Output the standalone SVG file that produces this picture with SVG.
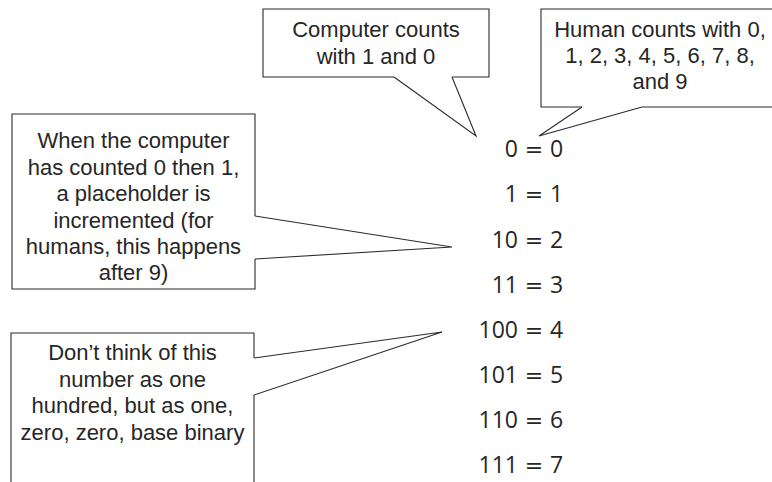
<svg xmlns="http://www.w3.org/2000/svg" width="772" height="482" viewBox="0 0 772 482">
<style>
.bg{fill:#ffffff}
.box{fill:none;stroke:#2b2b2b;stroke-width:1.1;stroke-linejoin:miter}
.tail{fill:none;stroke:#2b2b2b;stroke-width:1.1;stroke-linejoin:miter}
.lbl{font-family:"Liberation Sans",Arial,sans-serif;font-size:22px;fill:#262626;text-anchor:middle}
.eq{font-family:"Open Sans","DejaVu Sans",sans-serif;font-size:23px;fill:#262626}
.eqs{font-family:"DejaVu Sans",sans-serif;font-size:22px;fill:#262626;text-anchor:middle}
.l{text-anchor:end}
.r{text-anchor:start}
</style>
<rect class="bg" x="0" y="0" width="772" height="482"/>

<g id="callout-computer">
  <path class="box" d="M394,77 L263,77 L263,9 L489,9 L489,77 L452,77"/>
  <text class="lbl" x="376" y="37">Computer counts</text>
  <text class="lbl" x="376" y="64">with 1 and 0</text>
</g>

<g id="callout-human">
  <path class="box" d="M582,107 L541,107 L541,9 L776,9 M776,107 L642,107"/>
  <text class="lbl" x="660" y="37">Human counts with 0,</text>
  <text class="lbl" x="660" y="63">1, 2, 3, 4, 5, 6, 7, 8,</text>
  <text class="lbl" x="660" y="89">and 9</text>
</g>

<g id="callout-placeholder">
  <path class="box" d="M255,216 L255,114 L12,114 L12,289 L255,289 L255,259"/>
  <text class="lbl" x="133.5" y="148">When the computer</text>
  <text class="lbl" x="133.5" y="174.5">has counted 0 then 1,</text>
  <text class="lbl" x="133.5" y="201">a placeholder is</text>
  <text class="lbl" x="133.5" y="227.5">incremented (for</text>
  <text class="lbl" x="133.5" y="254">humans, this happens</text>
  <text class="lbl" x="133.5" y="280">after 9)</text>
</g>

<g id="callout-binary">
  <path class="box" d="M254,358 L254,333 L11,333 L11,490 M254,490 L254,395"/>
  <text class="lbl" x="132.5" y="360">Don’t think of this</text>
  <text class="lbl" x="132.5" y="386.5">number as one</text>
  <text class="lbl" x="132.5" y="413">hundred, but as one,</text>
  <text class="lbl" x="132.5" y="440">zero, zero, base binary</text>
</g>

<g id="connectors">
  <polyline class="tail" points="394,77 476,136 452,77"/>
  <polyline class="tail" points="582,107 539,136 642,107"/>
  <polyline class="tail" points="255,216 452,247 255,259"/>
  <polyline class="tail" points="254,358 442,332 254,395"/>
</g>

<g id="equations">
  <text class="eq l" x="518" y="157">0</text><text class="eqs" x="534" y="157">=</text><text class="eq r" x="550" y="157">0</text>
  <text class="eq l" x="518" y="202">1</text><text class="eqs" x="534" y="202">=</text><text class="eq r" x="550" y="202">1</text>
  <text class="eq l" x="518" y="247.5">10</text><text class="eqs" x="534" y="247.5">=</text><text class="eq r" x="550" y="247.5">2</text>
  <text class="eq l" x="518" y="292.5">11</text><text class="eqs" x="534" y="292.5">=</text><text class="eq r" x="550" y="292.5">3</text>
  <text class="eq l" x="518" y="338">100</text><text class="eqs" x="534" y="338">=</text><text class="eq r" x="550" y="338">4</text>
  <text class="eq l" x="518" y="383">101</text><text class="eqs" x="534" y="383">=</text><text class="eq r" x="550" y="383">5</text>
  <text class="eq l" x="518" y="428">110</text><text class="eqs" x="534" y="428">=</text><text class="eq r" x="550" y="428">6</text>
  <text class="eq l" x="518" y="473">111</text><text class="eqs" x="534" y="473">=</text><text class="eq r" x="550" y="473">7</text>
</g>
</svg>
